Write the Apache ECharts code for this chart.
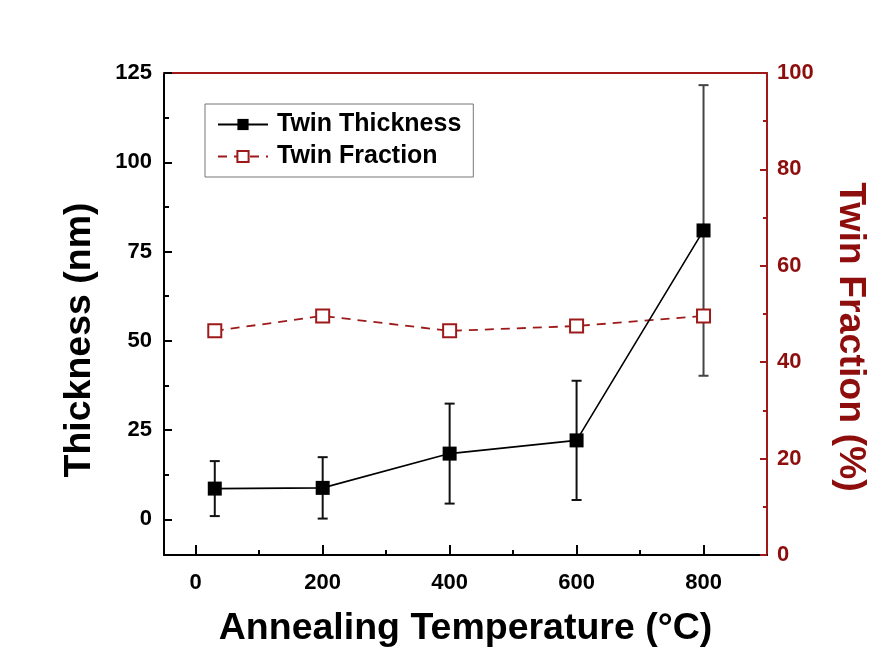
<!DOCTYPE html>
<html>
<head>
<meta charset="utf-8">
<script src="https://cdn.jsdelivr.net/npm/echarts@6/dist/echarts.min.js"></script>
<style>
html,body{margin:0;padding:0;background:#fff;}
#chart{width:878px;height:662px;}
</style>
</head>
<body>
<div id="chart"></div>
<script>
// ---- data ----
const temperatures = [30, 200, 400, 600, 800];
const twinThickness = [8.6, 8.8, 18.4, 22.1, 80.9];
const thicknessError = [7.7, 8.6, 14.0, 16.7, 40.7];
const twinFraction = [46.5, 49.6, 46.5, 47.5, 49.6];
const xMajorTicks = [0, 200, 400, 600, 800];
const xMinorTicks = [100, 300, 500, 700];
const yLeftMajorTicks = [0, 25, 50, 75, 100, 125];
const yLeftMinorTicks = [12.5, 37.5, 62.5, 87.5, 112.5];

const FONT = '"Liberation Sans", Arial, sans-serif';
const RED = '#8E0E0E';
const RED_LINE = '#A01818';
const MARK_RED = '#9E1A1A';

const chart = echarts.init(document.getElementById('chart'), null, {renderer: 'canvas'});

const thickSeries = temperatures.map((t, i) => [t, twinThickness[i]]);
const fracSeries = temperatures.map((t, i) => [t, twinFraction[i]]);
const errSeries = temperatures.map((t, i) => [t, twinThickness[i] - thicknessError[i], twinThickness[i] + thicknessError[i]]);

const option = {
  backgroundColor: '#ffffff',
  animation: false,
  grid: {left: 164, right: 111, top: 73, bottom: 107, containLabel: false},
  legend: {
    left: 205, top: 104,
    orient: 'vertical',
    data: ['Twin Thickness', 'Twin Fraction'],
    itemWidth: 50, itemHeight: 14, itemGap: 7,
    padding: [8, 12, 8, 12],
    borderColor: '#777', borderWidth: 1,
    textStyle: {fontFamily: FONT, fontWeight: 'bold', fontSize: 25, color: '#000', lineHeight: 25, padding: [0, 0, 0, 4]}
  },
  xAxis: [
    {
      type: 'value', position: 'bottom', min: -50, max: 900,
      name: 'Annealing Temperature (\u00B0C)', nameLocation: 'middle', nameGap: 55,
      nameTextStyle: {fontFamily: FONT, fontWeight: 'bold', fontSize: 37.5, color: '#000'},
      axisLine: {show: true, onZero: false, lineStyle: {color: '#000', width: 2}},
      axisTick: {show: true, inside: true, length: 10, lineStyle: {color: '#000', width: 2}, customValues: xMajorTicks},
      axisLabel: {show: true, margin: 17, fontFamily: FONT, fontWeight: 'bold', fontSize: 22, color: '#000', customValues: xMajorTicks},
      splitLine: {show: false}
    },
    {
      type: 'value', position: 'bottom', min: -50, max: 900,
      axisLine: {show: false, onZero: false},
      axisTick: {show: true, inside: true, length: 5, lineStyle: {color: '#000', width: 2}, customValues: xMinorTicks},
      axisLabel: {show: false},
      splitLine: {show: false}
    },
    {
      type: 'value', position: 'top', min: -50, max: 900,
      axisLine: {show: true, onZero: false, lineStyle: {color: RED_LINE, width: 2}},
      axisTick: {show: false}, axisLabel: {show: false}, splitLine: {show: false}
    }
  ],
  yAxis: [
    {
      type: 'value', position: 'left', min: -10, max: 125,
      axisLine: {show: true, onZero: false, lineStyle: {color: '#000', width: 2}},
      axisTick: {show: true, inside: true, length: 8, lineStyle: {color: '#000', width: 2}, customValues: yLeftMajorTicks},
      axisLabel: {show: true, margin: 12, fontFamily: FONT, fontWeight: 'bold', fontSize: 22, color: '#000', customValues: yLeftMajorTicks},
      splitLine: {show: false}
    },
    {
      type: 'value', position: 'left', min: -10, max: 125, offset: 0,
      axisLine: {show: false, onZero: false},
      axisTick: {show: true, inside: true, length: 5, lineStyle: {color: '#000', width: 2}, customValues: yLeftMinorTicks},
      axisLabel: {show: false},
      splitLine: {show: false}
    },
    {
      type: 'value', position: 'right', min: 0, max: 100, interval: 20, offset: 0,
      axisLine: {show: true, onZero: false, lineStyle: {color: RED_LINE, width: 2}},
      axisTick: {show: true, inside: true, length: 7, lineStyle: {color: RED_LINE, width: 2}},
      minorTick: {show: true, splitNumber: 2, length: 4, lineStyle: {color: RED_LINE, width: 2}},
      axisLabel: {show: true, margin: 10, fontFamily: FONT, fontWeight: 'bold', fontSize: 22, color: RED},
      splitLine: {show: false}
    }
  ],
  graphic: [
    {type: 'text', x: 80, y: 340, rotation: Math.PI / 2,
     style: {text: 'Thickness (nm)', font: 'bold 37.5px ' + FONT, fill: '#000', align: 'center', verticalAlign: 'middle'}},
    {type: 'text', x: 850, y: 337, rotation: -Math.PI / 2,
     style: {text: 'Twin Fraction (%)', font: 'bold 37.5px ' + FONT, fill: RED, align: 'center', verticalAlign: 'middle'}}
  ],
  series: [
    {
      name: 'errorbars', type: 'custom', xAxisIndex: 0, yAxisIndex: 0, z: 1,
      data: errSeries,
      renderItem: function (params, api) {
        const x = api.value(0);
        const lo = api.coord([x, api.value(1)]);
        const hi = api.coord([x, api.value(2)]);
        const hw = 5;
        const st = {stroke: params.dataIndex === 4 ? '#444' : '#111', lineWidth: 2};
        return {type: 'group', children: [
          {type: 'line', shape: {x1: hi[0], y1: hi[1], x2: lo[0], y2: lo[1]}, style: st},
          {type: 'line', shape: {x1: hi[0] - hw, y1: hi[1], x2: hi[0] + hw, y2: hi[1]}, style: st},
          {type: 'line', shape: {x1: lo[0] - hw, y1: lo[1], x2: lo[0] + hw, y2: lo[1]}, style: st}
        ]};
      }
    },
    {
      name: 'Twin Thickness', type: 'line', xAxisIndex: 0, yAxisIndex: 0, z: 3,
      data: thickSeries,
      symbol: 'rect', symbolSize: 14,
      itemStyle: {color: '#000'},
      lineStyle: {color: '#000', width: 1.6}
    },
    {
      name: 'Twin Fraction', type: 'line', xAxisIndex: 0, yAxisIndex: 2, z: 2,
      data: fracSeries,
      symbol: 'rect', symbolSize: 13,
      itemStyle: {color: '#fff', borderColor: MARK_RED, borderWidth: 2},
      lineStyle: {color: MARK_RED, width: 1.8, type: [9, 7]}
    }
  ]
};
chart.setOption(option);
</script>
</body>
</html>
